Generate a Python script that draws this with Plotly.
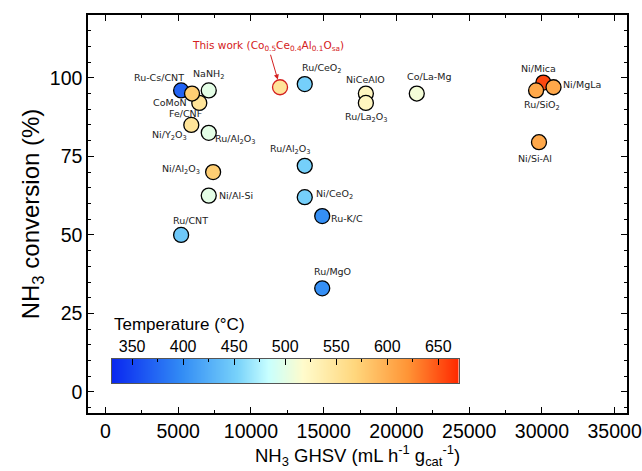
import plotly.graph_objects as go

# ---- data -------------------------------------------------------------
THIS_WORK = "This work (Co<sub>0.5</sub>Ce<sub>0.4</sub>Al<sub>0.1</sub>O<sub>sa</sub>)"

# catalysts in drawing order (later entries are drawn on top)
catalysts = [
    "Ru-Cs/CNT", "CoMoN", "NaNH<sub>2</sub>", "Fe/CNF", "Ni/Y<sub>2</sub>O<sub>3</sub>",
    "Ru/Al<sub>2</sub>O<sub>3</sub>", "Ni/Al<sub>2</sub>O<sub>3</sub>", "Ni/Al-Si", "Ru/CNT",
    THIS_WORK, "Ru/CeO<sub>2</sub>", "Ru/Al<sub>2</sub>O<sub>3</sub>", "Ni/CeO<sub>2</sub>",
    "Ru-K/C", "Ru/MgO", "NiCeAlO", "Ru/La<sub>2</sub>O<sub>3</sub>", "Co/La-Mg",
    "Ni/Mica", "Ru/SiO<sub>2</sub>", "Ni/MgLa", "Ni/Si-Al",
]
ghsv = [5200, 6450, 7100, 5950, 5900, 7100, 7400, 7100, 5200,
        12000, 13700, 13700, 13700, 14900, 14900, 17900, 17900, 21400,
        30100, 29600, 30800, 29800]
conversion = [96, 92, 96, 95, 85, 82.5, 70, 62.5, 50,
              97, 98, 72, 62, 56, 33, 95, 92, 95,
              98.5, 96, 97, 79.5]
temperature = [370, 550, 500, 575, 550, 500, 575, 500, 445,
               550, 450, 450, 450, 400, 400, 525, 525, 510,
               655, 605, 605, 605]

TEMP_RANGE = [330, 670]
temp_ticks = [350, 400, 450, 500, 550, 600, 650]
x_ticks = [0, 5000, 10000, 15000, 20000, 25000, 30000, 35000]
y_ticks = [0, 25, 50, 75, 100]

# ---- styling ----------------------------------------------------------
colorscale = [
    [0.00, "rgb(10,40,240)"],
    [0.20, "rgb(50,140,245)"],
    [0.36, "rgb(120,210,250)"],
    [0.45, "rgb(200,255,255)"],
    [0.55, "rgb(255,252,205)"],
    [0.70, "rgb(255,215,125)"],
    [0.85, "rgb(255,150,55)"],
    [1.00, "rgb(255,40,0)"],
]
RED = "#d42020"
LABEL_FONT = "DejaVu Sans"
AXIS_FONT = "Liberation Sans, Arial"

# label placement: pixel offset of each label centre from its marker (dx, dy up)
label_offsets = [
    (-22, 13), (-29, 0), (0, 16), (-7, -20), (-22, -11),
    (27, -7), (-32, 3), (27, 0), (9, 14),
    None, (17, 16), (-14, 16), (30, 3), (25, -2), (10, 17),
    (0, 14), (0, -15), (12, 17),
    (-5, 14), (6, -15), (28, 3), (-4, -16),
]

edge_colors = [RED if n == THIS_WORK else "black" for n in catalysts]

fig = go.Figure()

fig.add_trace(go.Scatter(
    x=ghsv, y=conversion, mode="markers",
    marker=dict(size=15, color=temperature, colorscale=colorscale,
                cmin=TEMP_RANGE[0], cmax=TEMP_RANGE[1], showscale=False,
                line=dict(color=edge_colors, width=1.3), opacity=1),
    hoverinfo="skip", showlegend=False,
))

# temperature bar drawn on its own small axes inside the plot
fig.add_trace(go.Heatmap(
    x=TEMP_RANGE, y=[0, 1], z=[TEMP_RANGE, TEMP_RANGE],
    zmin=TEMP_RANGE[0], zmax=TEMP_RANGE[1], colorscale=colorscale,
    zsmooth="best", showscale=False, xaxis="x2", yaxis="y2", hoverinfo="skip",
))

annotations = []
for name, gx, cy, off in zip(catalysts, ghsv, conversion, label_offsets):
    if name == THIS_WORK:
        annotations.append(dict(
            x=gx, y=cy, xref="x", yref="y", text=name, showarrow=True,
            ax=-12, ay=-41, arrowhead=2, arrowsize=1, arrowwidth=1,
            arrowcolor=RED, standoff=8,
            font=dict(family=LABEL_FONT, size=10.5, color=RED),
        ))
    else:
        annotations.append(dict(
            x=gx, y=cy, xref="x", yref="y", text=name, showarrow=False,
            xshift=off[0], yshift=off[1], xanchor="center", yanchor="middle",
            font=dict(family=LABEL_FONT, size=9.5, color="#222"),
        ))

annotations.append(dict(
    x=0.044, y=0.222, xref="paper", yref="paper", text="Temperature (°C)",
    showarrow=False, xanchor="left", yanchor="middle",
    font=dict(family=AXIS_FONT, size=17, color="black"),
))

axis_common = dict(
    showline=True, linecolor="black", linewidth=1.5, mirror="allticks",
    ticks="inside", ticklen=6, tickwidth=1, tickcolor="black",
    showgrid=False, zeroline=False, automargin=False,
    ticklabeloverflow="allow",
    tickfont=dict(family=AXIS_FONT, size=19.5, color="black"),
)

fig.update_layout(
    width=642, height=471,
    margin=dict(l=88, r=15, t=15, b=58),
    paper_bgcolor="white", plot_bgcolor="rgba(0,0,0,0)",
    xaxis=dict(
        **axis_common, range=[-1200, 35850], tickvals=x_ticks, tickformat="d",
        minor=dict(dtick=2500, tick0=0, ticks="inside", ticklen=3, tickcolor="black"),
        title=dict(text="NH<sub>3</sub> GHSV (mL h<sup>-1</sup> g<sub>cat</sub><sup>-1</sup>)",
                   font=dict(family="Liberation Sans Narrow, Liberation Sans, Arial", size=18.5,
                             color="black"),
                   standoff=8),
    ),
    yaxis=dict(
        **axis_common, range=[-6.7, 120], tickvals=y_ticks,
        minor=dict(dtick=5, tick0=0, ticks="inside", ticklen=3, tickcolor="black"),
        title=dict(text="NH<sub>3</sub> conversion (%)",
                   font=dict(family=AXIS_FONT, size=24, color="black"),
                   standoff=3),
    ),
    xaxis2=dict(
        domain=[0.044, 0.6878], anchor="y2", side="top", range=TEMP_RANGE,
        tickvals=temp_ticks, ticks="inside", ticklen=6, tickwidth=1, tickcolor="black",
        minor=dict(dtick=25, tick0=350, ticks="inside", ticklen=3, tickcolor="black"),
        showline=True, mirror=True, linecolor="#555", linewidth=1,
        showgrid=False, zeroline=False,
        tickfont=dict(family=AXIS_FONT, size=16, color="black"),
    ),
    yaxis2=dict(
        domain=[0.0754, 0.1357], anchor="x2", range=[0, 1],
        showticklabels=False, ticks="", showline=True, mirror=True,
        linecolor="#555", linewidth=1, showgrid=False, zeroline=False,
    ),
    annotations=annotations,
)

fig.write_html("out.html")
